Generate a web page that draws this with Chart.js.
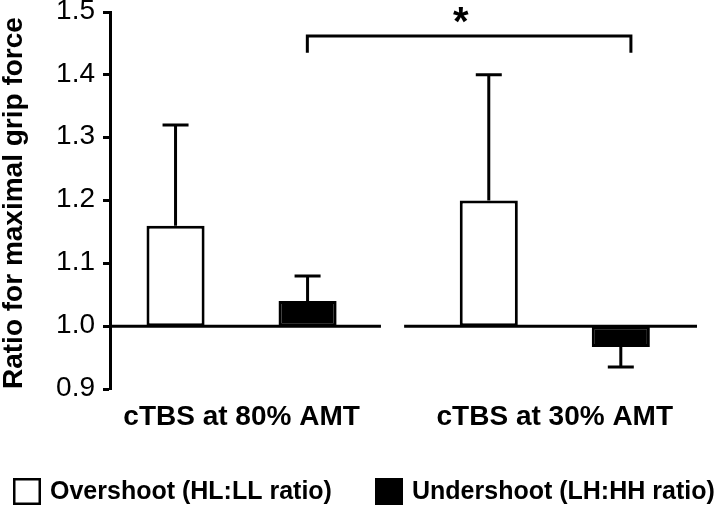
<!DOCTYPE html>
<html>
<head>
<meta charset="utf-8">
<script src="https://cdn.jsdelivr.net/npm/chart.js@4.4.0/dist/chart.umd.min.js"></script>
<style>
  html, body { margin: 0; padding: 0; background: #fff; }
  #wrap { width: 720px; height: 508px; }
</style>
</head>
<body>
<div id="wrap"><canvas id="chart" width="720" height="508"></canvas></div>
<script>
// groups on the x axis and where they sit on the (linear) x scale
const categories = ['cTBS at 80% AMT', 'cTBS at 30% AMT'];
const groupPos = [1, 2];

// Overshoot (HL:LL ratio): means and error (one-sided)
const overshoot = [1.16, 1.20];
const overshootErr = [0.16, 0.20];

// Undershoot (LH:HH ratio): means and error (one-sided)
const undershoot = [1.04, 0.967];
const undershootErr = [0.04, 0.032];

// bars start from the 1.0 line
const baseline = 1.0;
const yTicks = [0.9, 1.0, 1.1, 1.2, 1.3, 1.4, 1.5];
const seriesNames = ['Overshoot (HL:LL ratio)', 'Undershoot (LH:HH ratio)'];

// gap in the 1.0 line between the two groups (x values)
const baselineGap = [1.445, 1.519];
// significance bracket between the two undershoot bars
const bracket = { from: 1.21, to: 2.243, y: 1.462, drop: 0.027, label: '*' };

Chart.defaults.font.family = '"Liberation Sans", Arial, Helvetica, sans-serif';
Chart.defaults.color = '#000';

const toBars = (vals) => vals.map((v, i) => ({ x: groupPos[i], y: [baseline, v] }));
const errors = [overshootErr, undershootErr];
const means = [overshoot, undershoot];

// 1.0 reference line, broken between the groups
const baselinePlugin = {
    id: 'baselineLine',
    beforeDatasetsDraw(chart) {
        const { ctx, scales: { x, y } } = chart;
        const py = y.getPixelForValue(baseline);
        ctx.save();
        ctx.strokeStyle = '#000';
        ctx.lineWidth = 3;
        ctx.beginPath();
        ctx.moveTo(x.getPixelForValue(x.min), py);
        ctx.lineTo(x.getPixelForValue(baselineGap[0]), py);
        ctx.moveTo(x.getPixelForValue(baselineGap[1]), py);
        ctx.lineTo(x.getPixelForValue(x.max), py);
        ctx.stroke();
        ctx.restore();
    }
};

// error bars point away from the 1.0 line
const errorBarPlugin = {
    id: 'errorBars',
    afterDatasetsDraw(chart) {
        const { ctx, scales: { y } } = chart;
        ctx.save();
        ctx.strokeStyle = '#000';
        ctx.lineWidth = 3;
        chart.data.datasets.forEach((ds, di) => {
            const meta = chart.getDatasetMeta(di);
            meta.data.forEach((bar, i) => {
                const v = means[di][i];
                const dir = v >= baseline ? 1 : -1;
                const y0 = y.getPixelForValue(v);
                const y1 = y.getPixelForValue(v + dir * errors[di][i]);
                ctx.beginPath();
                ctx.moveTo(bar.x, y0);
                ctx.lineTo(bar.x, y1);
                ctx.moveTo(bar.x - 13, y1);
                ctx.lineTo(bar.x + 13, y1);
                ctx.stroke();
            });
        });
        ctx.restore();
    }
};

// bracket with asterisk
const bracketPlugin = {
    id: 'sigBracket',
    afterDatasetsDraw(chart) {
        const { ctx, scales: { x, y } } = chart;
        const x0 = x.getPixelForValue(bracket.from);
        const x1 = x.getPixelForValue(bracket.to);
        const yTop = y.getPixelForValue(bracket.y);
        const yBot = y.getPixelForValue(bracket.y - bracket.drop);
        ctx.save();
        ctx.strokeStyle = '#000';
        ctx.lineWidth = 3;
        ctx.beginPath();
        ctx.moveTo(x0, yBot);
        ctx.lineTo(x0, yTop);
        ctx.lineTo(x1, yTop);
        ctx.lineTo(x1, yBot);
        ctx.stroke();
        ctx.fillStyle = '#000';
        ctx.font = 'bold 40px "Liberation Sans", Arial, sans-serif';
        ctx.textAlign = 'center';
        ctx.textBaseline = 'alphabetic';
        ctx.fillText(bracket.label, x.getPixelForValue(1.70), yTop - 1);
        ctx.restore();
    }
};

// legend boxes along the bottom
const legendPlugin = {
    id: 'bottomLegend',
    afterDraw(chart) {
        const ctx = chart.ctx;
        const top = 478;
        const xs = [13, 375];
        ctx.save();
        ctx.font = 'bold 25px "Liberation Sans", Arial, sans-serif';
        ctx.textBaseline = 'middle';
        ctx.textAlign = 'left';
        chart.data.datasets.forEach((ds, i) => {
            ctx.fillStyle = ds.backgroundColor;
            ctx.fillRect(xs[i], top, 28, 27);
            ctx.strokeStyle = '#000';
            ctx.lineWidth = 2.5;
            ctx.strokeRect(xs[i] + 1.25, top + 1.25, 25.5, 24.5);
            ctx.fillStyle = '#000';
            ctx.fillText(ds.label, xs[i] + 37, top + 14);
        });
        ctx.restore();
    }
};

new Chart(document.getElementById('chart'), {
    type: 'bar',
    data: {
        datasets: [{
            label: seriesNames[0],
            data: toBars(overshoot),
            backgroundColor: '#fff',
            borderColor: '#000',
            borderWidth: 3,
            borderSkipped: false
        }, {
            label: seriesNames[1],
            data: toBars(undershoot),
            backgroundColor: '#000',
            borderColor: '#000',
            borderWidth: 3,
            borderSkipped: false
        }]
    },
    options: {
        responsive: false,
        animation: false,
        barPercentage: 0.44,
        categoryPercentage: 0.843,
        layout: { padding: { left: 0, top: 12, right: 23, bottom: 74 } },
        plugins: {
            legend: { display: false },
            tooltip: { enabled: false }
        },
        scales: {
            x: {
                type: 'linear',
                min: 0.58,
                max: 2.454,
                offset: false,
                afterBuildTicks: (scale) => { scale.ticks = groupPos.map(v => ({ value: v })); },
                afterFit: (scale) => { scale.height = 45; },
                grid: { display: false, drawTicks: false },
                border: { display: false },
                ticks: {
                    padding: 11,
                    color: '#000',
                    font: { size: 28, weight: 'bold' },
                    callback: (v, i) => categories[i]
                }
            },
            y: {
                min: 0.9,
                max: 1.5,
                afterBuildTicks: (scale) => { scale.ticks = yTicks.map(v => ({ value: v })); },
                afterFit: (scale) => {
                    scale.width = 110;
                    scale.paddingTop = 0;
                    scale.paddingBottom = 0;
                },
                border: { display: true, color: '#000', width: 3 },
                grid: {
                    drawOnChartArea: false,
                    drawTicks: true,
                    tickLength: 7,
                    tickWidth: 3,
                    tickColor: '#000'
                },
                ticks: {
                    padding: 8,
                    labelOffset: -1,
                    color: '#000',
                    font: { size: 28 },
                    callback: (v) => Number(v).toFixed(1)
                },
                title: {
                    display: true,
                    text: 'Ratio for maximal grip force',
                    align: 'start',
                    color: '#000',
                    padding: { top: 0, bottom: 0 },
                    font: { size: 28, weight: 'bold', lineHeight: 1 }
                }
            }
        }
    },
    plugins: [baselinePlugin, errorBarPlugin, bracketPlugin, legendPlugin]
});
</script>
</body>
</html>
